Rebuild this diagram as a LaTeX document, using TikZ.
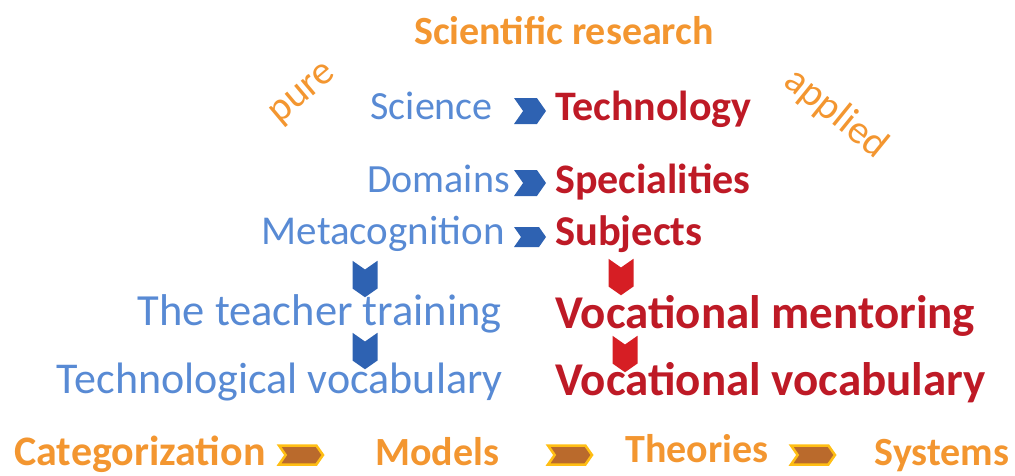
\documentclass[tikz,border=0pt]{standalone}
\usepackage{fontspec}
\setmainfont{Carlito}
\usetikzlibrary{shapes.symbols}
\definecolor{resorange}{RGB}{243,150,48}
\definecolor{pureblue}{RGB}{88,138,212}
\definecolor{appred}{RGB}{190,26,38}
\definecolor{chevblue}{RGB}{46,98,178}
\definecolor{chevred}{RGB}{214,30,36}
\definecolor{chevgold}{RGB}{255,190,20}
\definecolor{chevbrown}{RGB}{186,106,44}

\tikzset{
  puretext/.style={inner sep=0pt, anchor=base east, text=pureblue},
  apptext/.style={inner sep=0pt, anchor=base west, text=appred, font=\bfseries},
  steptext/.style={inner sep=0pt, anchor=base, text=resorange, font=\bfseries\fontsize{40}{40}\selectfont},
  chevron/.style={signal, inner sep=0pt, signal pointer angle=110},
  rightchev/.style={chevron, signal to=east, signal from=west, fill=chevblue,
    minimum width=32pt, minimum height=26pt},
  downchev/.style={chevron, signal to=south, signal from=north,
    minimum width=25pt, minimum height=19pt},
  stepchev/.style={chevron, signal to=east, signal from=west, draw=chevgold,
    line width=2.5pt, fill=chevbrown, minimum width=44pt, minimum height=19pt},
}

\begin{document}
\begin{tikzpicture}[x=1pt,y=-1pt]
  \useasboundingbox (0,0) rectangle (1015,475);

  % heading and the two branches
  \node[steptext] (research) at (564,44) {Scientific research};
  \node[inner sep=0pt, text=resorange, rotate=40, font=\fontsize{40}{40}\selectfont]
    (pure) at (304,95) {pure};
  \node[inner sep=0pt, text=resorange, rotate=-39, font=\fontsize{40}{40}\selectfont]
    (applied) at (836,114) {applied};

  % pure side
  \node[puretext, font=\fontsize{40}{40}\selectfont] (science) at (493,119) {Science};
  \node[puretext, font=\fontsize{40}{40}\selectfont] (domains) at (510,192) {Domains};
  \node[puretext, font=\fontsize{41}{41}\selectfont] (metacog) at (505,244) {Metacognition};
  \node[puretext, font=\fontsize{44.5}{44.5}\selectfont] (training) at (502,325) {The teacher training};
  \node[puretext, font=\fontsize{44}{44}\selectfont] (techvoc) at (503,393) {Technological vocabulary};

  % applied side
  \node[apptext, font=\bfseries\fontsize{42}{42}\selectfont] (technology) at (555,120) {Technology};
  \node[apptext, font=\bfseries\fontsize{42}{42}\selectfont] (special) at (555,193) {Specialities};
  \node[apptext, font=\bfseries\fontsize{42.5}{42.5}\selectfont] (subjects) at (555,245) {Subjects};
  \node[apptext, font=\bfseries\fontsize{47}{47}\selectfont] (mentoring) at (555,328) {Vocational mentoring};
  \node[apptext, font=\bfseries\fontsize{47}{47}\selectfont] (vocvoc) at (555,395) {Vocational vocabulary};

  % chevrons between the columns
  \node[rightchev] (c1) at (530,111) {};
  \node[rightchev] (c2) at (530,183) {};
  \node[rightchev, minimum height=20pt] (c3) at (530,237) {};
  \node[downchev, fill=chevblue] (d1) at (365,279) {};
  \node[downchev, fill=chevblue] (d2) at (365,351) {};
  \node[downchev, fill=chevred] (d3) at (621,277) {};
  \node[downchev, fill=chevred] (d4) at (625,354) {};

  % bottom row
  \node[steptext, font=\bfseries\fontsize{42}{42}\selectfont] (categ) at (140,465) {Categorization};
  \node[steptext] (models) at (437,465) {Models};
  \node[steptext] (theories) at (697,462) {Theories};
  \node[steptext] (systems) at (942,465) {Systems};
  \node[stepchev] (s1) at (301,455) {};
  \node[stepchev] (s2) at (570,455) {};
  \node[stepchev] (s3) at (813,455) {};
\end{tikzpicture}
\end{document}
